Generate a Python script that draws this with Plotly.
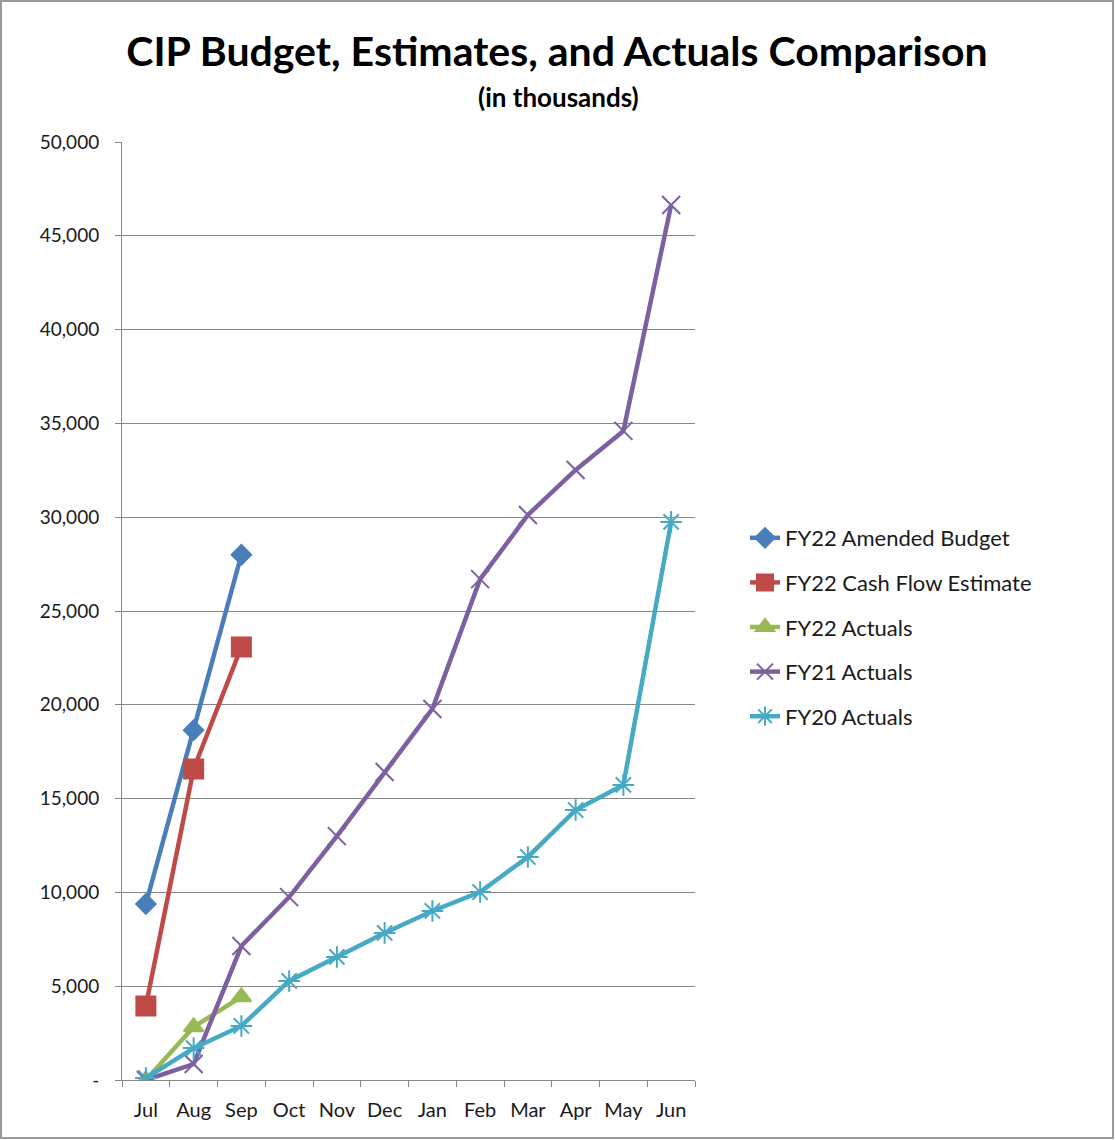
import plotly.graph_objects as go

months = ["Jul", "Aug", "Sep", "Oct", "Nov", "Dec", "Jan", "Feb", "Mar", "Apr", "May", "Jun"]
fy22_budget = [9380, 18650, 28000]
fy22_cashflow = [3950, 16580, 23080]
fy22_actuals = [0, 2830, 4430]
fy21_actuals = [0, 850, 7140, 9750, 13000, 16420, 19780, 26700, 30120, 32520, 34600, 46640]
fy20_actuals = [100, 1700, 2880, 5280, 6560, 7840, 9010, 10020, 11890, 14390, 15730, 29750]
ytick_vals = [0, 5000, 10000, 15000, 20000, 25000, 30000, 35000, 40000, 45000, 50000]
ytick_text = ["-", "5,000", "10,000", "15,000", "20,000", "25,000", "30,000", "35,000", "40,000", "45,000", "50,000"]

W, H = 1115, 1140
L, R, T, B = 122, 420, 142, 60
pw, ph = W - L - R, H - T - B

series = [
    ("FY22 Amended Budget", fy22_budget, "#4A7EBB", "diamond", 15),
    ("FY22 Cash Flow Estimate", fy22_cashflow, "#BE4B48", "square", 19),
    ("FY22 Actuals", fy22_actuals, "#98B954", "triangle-up", 17),
    ("FY21 Actuals", fy21_actuals, "#7D60A0", "x-thin-open", 18),
    ("FY20 Actuals", fy20_actuals, "#46AAC5", "asterisk-open", 18),
]

fig = go.Figure()
for i, (name, vals, color, sym, size) in enumerate(series):
    fig.add_trace(go.Scatter(
        x=months[:len(vals)], y=vals, name=name, mode="lines+markers",
        line=dict(color=color, width=4.5),
        marker=dict(symbol=sym, size=size, color=color, line=dict(color=color, width=2)),
        legendgroup=f"g{i}",
    ))

fig.update_layout(
    width=W, height=H,
    margin=dict(l=L, r=R, t=T, b=B, autoexpand=False),
    paper_bgcolor="white", plot_bgcolor="white",
    font=dict(family="Lato, 'Open Sans', sans-serif", color="#1a1a1a"),
    title=dict(text="<b>CIP Budget, Estimates, and Actuals Comparison</b>",
               x=557 / W, xref="container", xanchor="center", y=1 - 52 / H, yanchor="middle",
               font=dict(size=41, color="black", family="Lato, sans-serif")),
    annotations=[dict(text="<b>(in thousands)</b>", xref="paper", yref="paper",
                      x=(558 - L) / pw, y=(H - B - 97) / ph, xanchor="center", yanchor="middle",
                      showarrow=False, font=dict(size=26, color="black"))],
    legend=dict(x=(745 - L) / pw, xanchor="left", y=(H - B - 627) / ph, yanchor="middle",
                font=dict(size=22, color="#1a1a1a"), tracegroupgap=13, bgcolor="rgba(0,0,0,0)"),
    xaxis=dict(type="category", categoryorder="array", categoryarray=months,
               range=[-0.5, 11.5], showline=True, linecolor="#868686", linewidth=1,
               ticks="outside", tickson="boundaries", ticklen=6, tickcolor="#868686",
               showgrid=False, tickangle=0, automargin=False, ticklabelstandoff=12,
               tickfont=dict(size=20, color="#1a1a1a")),
    yaxis=dict(range=[0, 50000], tickvals=ytick_vals, ticktext=ytick_text,
               showline=True, linecolor="#868686", linewidth=1,
               ticks="outside", ticklen=6, tickcolor="#868686", automargin=False,
               showgrid=True, gridcolor="#868686", gridwidth=1, zeroline=False,
               tickfont=dict(size=19, color="#1a1a1a"), ticklabelstandoff=12),
    shapes=[dict(type="rect", xref="paper", yref="paper",
                 x0=-(L - 1) / pw, x1=(W - L - 2) / pw, y0=-(B - 2) / ph, y1=(H - B - 1) / ph,
                 line=dict(color="#9a9a9a", width=2), fillcolor="rgba(0,0,0,0)", layer="below")],
)

fig.write_html("out.html")
